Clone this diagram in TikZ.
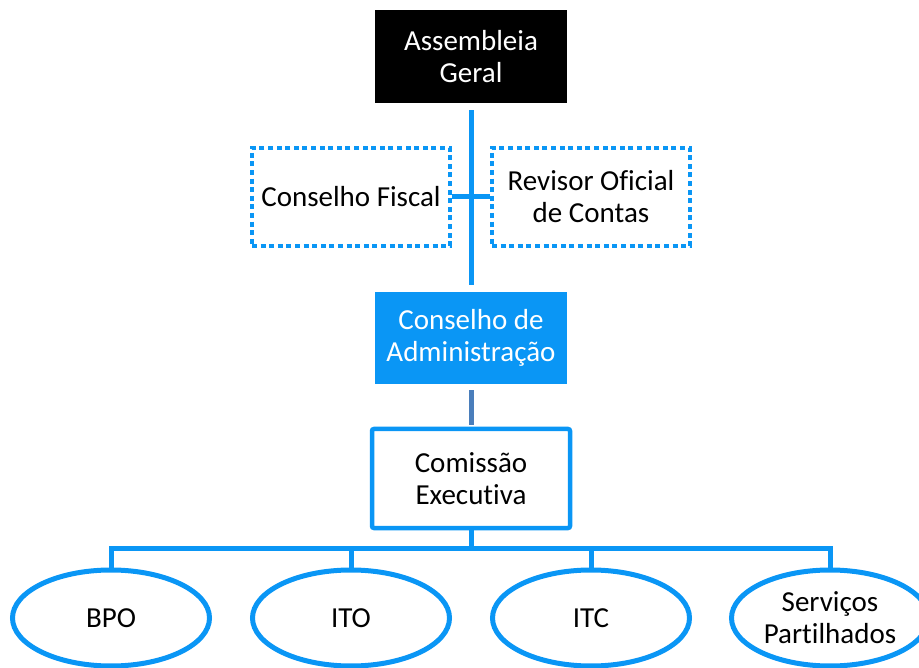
\documentclass[tikz,border=0pt]{standalone}
\usepackage{fontspec}
\setmainfont{Carlito}[Ligatures={NoCommon,NoContextual}]
\usetikzlibrary{shapes.geometric}
\definecolor{sblue}{RGB}{10,150,245}
\definecolor{dblue}{RGB}{74,126,187}
\tikzset{
  lbl/.style={align=center,font=\fontsize{29}{32}\selectfont,inner sep=0pt},
  blackbox/.style={lbl,rectangle,fill=black,text=white,minimum width=192,minimum height=93},
  dotbox/.style={lbl,rectangle,draw=sblue,line width=4.5pt,dash pattern=on 5pt off 3.6pt,minimum width=198,minimum height=98},
  bluebox/.style={lbl,rectangle,fill=sblue,text=white,minimum width=192,minimum height=92},
  outlinebox/.style={lbl,rectangle,draw=sblue,line width=4.5pt,rounded corners=2pt,minimum width=198,minimum height=99},
  unit/.style={lbl,ellipse,draw=sblue,line width=5pt,minimum width=197,minimum height=96},
  conn/.style={draw=sblue,line width=5pt},
  dconn/.style={draw=dblue,line width=5pt}
}
\begin{document}
\begin{tikzpicture}[x=1pt,y=-1pt]
\useasboundingbox (0,0) rectangle (919,668);
\node[blackbox] (ag) at (471,56.5) {Assembleia\\Geral};
\node[dotbox] (cf) at (351,197) {Conselho Fiscal};
\node[dotbox] (roc) at (591,197) {Revisor Oficial\\de Contas};
\node[bluebox] (cda) at (471,338) {Conselho de\\Administração};
\node[outlinebox] (ce) at (471,478.5) {Comissão\\Executiva};
\node[unit] (bpo) at (111,618) {BPO};
\node[unit] (ito) at (351,618) {ITO};
\node[unit] (itc) at (591,618) {ITC};
\node[unit] (srv) at (830,618) {Serviços\\Partilhados};
\coordinate (bus) at (471,548);
\draw[conn] ([yshift=-7pt]ag.south) -- ([yshift=7pt]cda.north);
\draw[conn] (cf.east) -- (roc.west);
\draw[dconn] ([yshift=-6pt]cda.south) -- ([yshift=2pt]ce.north);
\draw[conn] (ce.south) -- (bus);
\draw[conn,line join=miter] (bpo.north) -- (bpo.north |- bus) -- (srv.north |- bus) -- (srv.north);
\draw[conn] (ito.north) -- (ito.north |- bus);
\draw[conn] (itc.north) -- (itc.north |- bus);
\end{tikzpicture}
\end{document}
